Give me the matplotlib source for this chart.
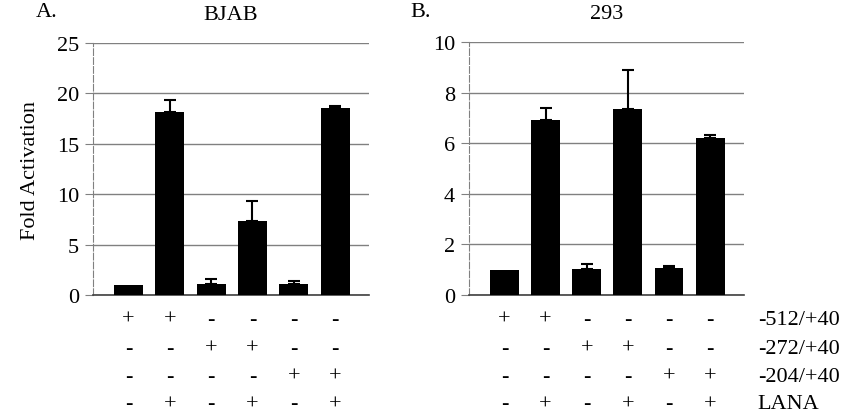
import matplotlib
matplotlib.use("Agg")
import matplotlib.pyplot as plt
import matplotlib.transforms as mtransforms
import numpy as np

plt.rcParams["font.family"] = ["Liberation Serif", "DejaVu Serif"]
plt.rcParams["font.size"] = 16

# data
bjab_values = [1.0, 18.2, 1.1, 7.3, 1.1, 18.6]
bjab_errors = [0.0, 1.1, 0.5, 2.0, 0.3, 0.15]
hek_values = [1.0, 6.92, 1.04, 7.34, 1.05, 6.19]
hek_errors = [0.0, 0.48, 0.18, 1.54, 0.08, 0.13]

row_labels = ["-512/+40", "-272/+40", "-204/+40", "LANA"]
row_signs = [
    ["+", "+", "-", "-", "-", "-"],
    ["-", "-", "+", "+", "-", "-"],
    ["-", "-", "-", "-", "+", "+"],
    ["-", "+", "-", "+", "-", "+"],
]
row_y = [0.226, 0.156, 0.088, 0.022]


def draw_panel(ax, values, errors, ymax, step, title, letter, letter_x):
    x = np.arange(len(values))
    ax.bar(x, values, width=0.7, color="black", zorder=3)
    # bars with an error value get an upward error bar only
    has_err = [i for i, e in enumerate(errors) if e > 0]
    ax.errorbar([x[i] for i in has_err], [values[i] for i in has_err],
                yerr=[[0] * len(has_err), [errors[i] for i in has_err]],
                fmt="none", ecolor="black", elinewidth=1.5, capsize=4,
                capthick=1.5, zorder=4)
    ax.set_xlim(-0.86, 5.82)
    ax.set_ylim(0, ymax)
    ax.set_yticks(np.arange(0, ymax + step / 2, step))
    ax.set_xticks([])
    ax.yaxis.grid(True, color="0.5", linewidth=1.0)
    ax.set_axisbelow(True)
    for side in ["top", "right"]:
        ax.spines[side].set_visible(False)
    ax.spines["left"].set_color("0.5")
    ax.spines["left"].set_linestyle((0, (6, 2)))
    ax.spines["bottom"].set_color("0.25")
    ax.spines["bottom"].set_linewidth(1.2)
    ax.tick_params(axis="y", length=6, color="0.5", pad=4)
    ax.set_title(title, fontsize=16, pad=17)

    fig = ax.figure
    trans = mtransforms.blended_transform_factory(ax.transData, fig.transFigure)
    for signs, yy in zip(row_signs, row_y):
        for i, s in enumerate(signs):
            ax.text(i, yy, s, transform=trans, ha="center", va="center",
                    fontsize=16, clip_on=False)
    fig.text(letter_x, 0.97, letter, fontsize=16, ha="left", va="center")


fig = plt.figure(figsize=(8.43, 4.14), dpi=100)
ax_a = fig.add_axes([0.1103, 0.285, 0.3274, 0.6087])
ax_b = fig.add_axes([0.5563, 0.285, 0.3262, 0.611])

draw_panel(ax_a, bjab_values, bjab_errors, 25, 5, "BJAB", "A.", 0.042)
draw_panel(ax_b, hek_values, hek_errors, 10, 2, "293", "B.", 0.487)
ax_a.set_ylabel("Fold Activation", fontsize=16, labelpad=12)

for label, yy in zip(row_labels, row_y):
    fig.text(0.899, yy, label, fontsize=16, ha="left", va="center")

fig.savefig("out.png", dpi=100)
